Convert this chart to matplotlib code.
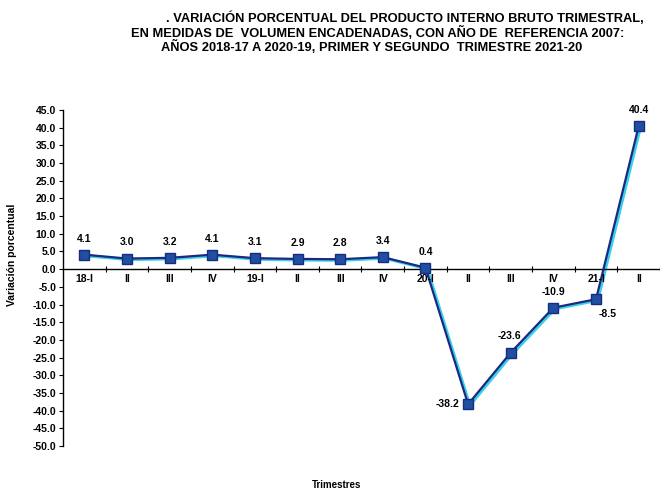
import matplotlib.pyplot as plt
from matplotlib import font_manager

# Trimestres y variación porcentual del PIB
trimestres = ['18-I', 'II', 'III', 'IV', '19-I', 'II', 'III', 'IV',
              '20-I', 'II', 'III', 'IV', '21-I', 'II']
variacion = [4.1, 3.0, 3.2, 4.1, 3.1, 2.9, 2.8, 3.4,
             0.4, -38.2, -23.6, -10.9, -8.5, 40.4]
etiquetas = ['4.1', '3.0', '3.2', '4.1', '3.1', '2.9', '2.8', '3.4',
             '0.4', '-38.2', '-23.6', '-10.9', '-8.5', '40.4']
titulo = ['. VARIACIÓN PORCENTUAL DEL PRODUCTO INTERNO BRUTO TRIMESTRAL,',
          'EN MEDIDAS DE  VOLUMEN ENCADENADAS, CON AÑO DE  REFERENCIA 2007:',
          'AÑOS 2018-17 A 2020-19, PRIMER Y SEGUNDO  TRIMESTRE 2021-20']

names = {f.name for f in font_manager.fontManager.ttflist}
fam = 'Liberation Sans Narrow' if 'Liberation Sans Narrow' in names else 'Liberation Sans'
plt.rcParams['font.family'] = [fam, 'DejaVu Sans']

fig = plt.figure(figsize=(6.6, 4.91), dpi=100)
ax = fig.add_axes([63/660, 1 - 446/491, (660 - 63)/660, (446 - 110)/491])

x = list(range(len(trimestres)))
# sombra cian bajo la línea principal
ax.plot([i + 0.04 for i in x], [v - 0.3 for v in variacion], color='#3ad0e8', lw=2.2, zorder=2)
ax.plot(x, variacion, color='#1a2a80', lw=1.6, marker='s', markersize=7,
        markerfacecolor='#1f4fa0', markeredgecolor='#1a2a80', zorder=3)

offsets = {9: (-6, 0, 'right', 'center'), 10: (-1, 12, 'center', 'center'),
           12: (8, -11, 'center', 'center')}
for i, (v, t) in enumerate(zip(variacion, etiquetas)):
    dx, dy, ha, va = offsets.get(i, (0, 8, 'center', 'bottom'))
    ax.annotate(t, (i, v), xytext=(dx, dy), textcoords='offset points',
                ha=ha, va=va, fontsize=7.5, fontweight='bold')

ax.set_ylim(-50, 45)
ax.set_yticks(range(-50, 50, 5))
ax.set_yticklabels([f'{v:.1f}' for v in range(-50, 50, 5)], fontsize=7.5, fontweight='bold')
ax.set_xlim(-0.5, 13.45)

ax.spines['top'].set_visible(False)
ax.spines['right'].set_visible(False)
ax.spines['bottom'].set_position(('data', 0))
ax.spines['left'].set_linewidth(1.0)
ax.spines['bottom'].set_linewidth(1.0)
ax.tick_params(axis='y', length=3, direction='out', pad=2)

ax.set_xticks([i + 0.5 for i in x])
ax.set_xticklabels([])
ax.tick_params(axis='x', length=4, direction='inout')
for i, t in enumerate(trimestres):
    ax.text(i, -1.5, t, ha='center', va='top', fontsize=7.5, fontweight='bold')

fig.text(12/660, 1 - 255/491, 'Variación porcentual', rotation=90, ha='center', va='center',
         fontsize=7.5, fontweight='bold')
fig.text(337/660, 1 - 485/491, 'Trimestres', ha='center', va='center', fontsize=7, fontweight='bold')

for (cx, cy), linea in zip([(405, 18), (378, 33), (372, 47)], titulo):
    fig.text(cx/660, 1 - cy/491, linea, ha='center', va='center', fontsize=9.3, fontweight='bold')

fig.savefig('out.png', dpi=100)
